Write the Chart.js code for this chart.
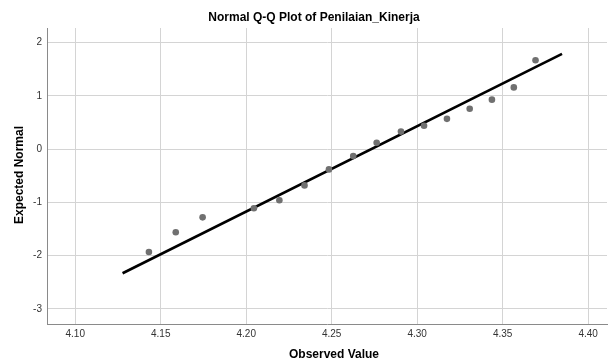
<!DOCTYPE html>
<html>
<head>
<meta charset="utf-8">
<script src="https://cdn.jsdelivr.net/npm/chart.js@4"></script>
<style>
  html, body { margin: 0; padding: 0; background: #fff; }
  #wrap { width: 611px; height: 362px; }
</style>
</head>
<body>
<div id="wrap"><canvas id="qq" width="611" height="362"></canvas></div>
<script>
// values
const observed = [4.1431, 4.1588, 4.1745, 4.2045, 4.2194, 4.2341, 4.2484, 4.2626,
                  4.2763, 4.2905, 4.3040, 4.3174, 4.3307, 4.3437, 4.3565, 4.3692];
const expected = [-1.93, -1.56, -1.28, -1.11, -0.96, -0.68, -0.38, -0.13,
                  0.12, 0.33, 0.44, 0.57, 0.76, 0.93, 1.16, 1.67];
const lineX = [4.1277, 4.3847];
const lineY = [-2.33, 1.79];
const xTicks = [4.10, 4.15, 4.20, 4.25, 4.30, 4.35, 4.40];
const yTicks = [-3, -2, -1, 0, 1, 2];
const chartTitle = 'Normal Q-Q Plot of Penilaian_Kinerja';
const xTitle = 'Observed Value';
const yTitle = 'Expected Normal';

const FONT = '"Liberation Sans", Arial, sans-serif';

// titles drawn by hand so they land where SPSS puts them
const titlesPlugin = {
    id: 'spssTitles',
    afterDraw(chart) {
        const ctx = chart.ctx;
        ctx.save();
        ctx.fillStyle = '#000';
        ctx.textAlign = 'center';
        ctx.textBaseline = 'middle';
        ctx.font = 'bold 12px ' + FONT;
        ctx.fillText(chartTitle, 314, 18);
        ctx.fillText(xTitle, 334, 355);
        ctx.translate(20, 175);
        ctx.rotate(-Math.PI / 2);
        ctx.fillText(yTitle, 0, 0);
        ctx.restore();
    }
};

const pts = observed.map((x, i) => ({ x: x, y: expected[i] }));
const fit = lineX.map((x, i) => ({ x: x, y: lineY[i] }));

new Chart(document.getElementById('qq'), {
    type: 'scatter',
    data: {
        datasets: [{
            data: pts,
            backgroundColor: '#707070',
            borderColor: '#707070',
            pointRadius: 3.3,
            pointBorderWidth: 0,
        }, {
            type: 'line',
            data: fit,
            borderColor: '#000',
            borderWidth: 2.6,
            pointRadius: 0,
            fill: false,
            tension: 0,
        }],
    },
    options: {
        responsive: false,
        animation: false,
        events: [],
        layout: {
            padding: { top: 28, right: 0, bottom: 0, left: 0 },
        },
        plugins: {
            legend: { display: false },
            title: { display: false },
            tooltip: { enabled: false },
        },
        scales: {
            x: {
                type: 'linear',
                min: 4.0835,
                max: 4.411,
                afterFit: (scale) => { scale.height = 38; },
                afterBuildTicks: (scale) => { scale.ticks = xTicks.map(v => ({ value: v })); },
                grid: { color: '#d4d4d4', lineWidth: 1, drawTicks: false },
                border: { color: '#8a8a8a', width: 1 },
                ticks: {
                    padding: 4,
                    color: '#333',
                    font: { family: FONT, size: 10 },
                    maxRotation: 0,
                    callback: (v) => Number(v).toFixed(2),
                },
            },
            y: {
                type: 'linear',
                min: -3.283,
                max: 2.276,
                afterFit: (scale) => { scale.width = 47; },
                afterBuildTicks: (scale) => { scale.ticks = yTicks.map(v => ({ value: v })); },
                grid: { color: '#d4d4d4', lineWidth: 1, drawTicks: false },
                border: { color: '#8a8a8a', width: 1 },
                ticks: {
                    padding: 5,
                    color: '#333',
                    font: { family: FONT, size: 10 },
                },
            },
        },
    },
    plugins: [titlesPlugin],
});
</script>
</body>
</html>
